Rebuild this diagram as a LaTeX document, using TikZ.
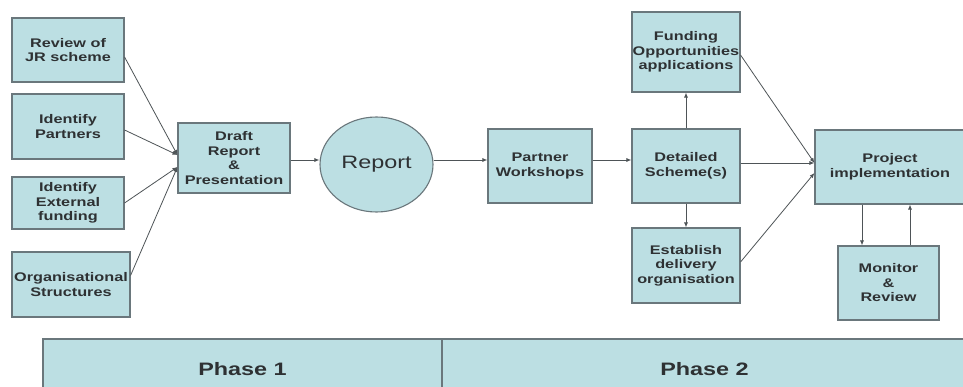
\documentclass[tikz,border=0pt]{standalone}
\usepackage{fontspec}
\setmainfont[FakeStretch=1.3]{Liberation Sans}
\usetikzlibrary{shapes.geometric,arrows.meta}
\definecolor{boxfill}{HTML}{BCDFE3}
\definecolor{boxline}{HTML}{6A777C}
\definecolor{ink}{HTML}{2E3133}
\definecolor{wire}{HTML}{4E5457}
\begin{document}
\begin{tikzpicture}[x=1pt,y=-1pt,
  stepbox/.style={draw=boxline,line width=1.1pt,fill=boxfill,rectangle,inner sep=0pt,
    align=center,text=ink,font=\fontsize{12.5}{14.5}\selectfont\bfseries},
  phasebox/.style={draw=boxline,line width=1.1pt,fill=boxfill,rectangle,inner sep=0pt,
    text=ink,font=\fontsize{18}{20}\selectfont\bfseries},
  arr/.style={draw=wire,line width=0.8pt,-{Latex[length=5pt,width=4pt]}}]
\useasboundingbox (0,0) rectangle (963,387);
\clip (0,0) rectangle (963,387);
\fill[white] (0,0) rectangle (963,387);

% phase 1 inputs
\node[stepbox,minimum width=112,minimum height=64] (review) at (68,50) {Review of\\JR scheme};
\node[stepbox,minimum width=112,minimum height=65] (partners) at (68,126.5) {Identify\\Partners};
\node[stepbox,minimum width=112,minimum height=52] (external) at (68,203) {Identify\\External\\funding};
\node[stepbox,minimum width=118,minimum height=65] (org) at (71,284.5) {Organisational\\Structures};

% main chain
\node[stepbox,minimum width=112,minimum height=70] (draft) at (234,158) {Draft\\Report\\\&\\Presentation};
\node[ellipse,draw=boxline,line width=1.1pt,fill=boxfill,inner sep=0pt,minimum width=113,minimum height=95,
  text=ink,font=\fontsize{18}{20}\selectfont] (report) at (376.5,164.5) {Report};
\node[stepbox,minimum width=104,minimum height=74] (workshops) at (540,166) {Partner\\Workshops};
\node[stepbox,minimum width=108,minimum height=80] (funding) at (686,52) {Funding\\Opportunities\\applications};
\node[stepbox,minimum width=108,minimum height=74] (detailed) at (686,166) {Detailed\\Scheme(s)};
\node[stepbox,minimum width=108,minimum height=75] (establish) at (686,265.5) {Establish\\delivery\\organisation};
\node[stepbox,minimum width=150,minimum height=74] (project) at (890,167) {Project\\implementation};
\node[stepbox,minimum width=101,minimum height=74] (monitor) at (888.5,283) {Monitor\\\&\\Review};

% phase bar
\node[phasebox,minimum width=399,minimum height=60] (phase1) at (242.5,369) {Phase 1};
\node[phasebox,minimum width=525,minimum height=60] (phase2) at (704.5,369) {Phase 2};

% join points
\coordinate (row) at (0,160);
\coordinate (draftA) at ([yshift=3pt]draft.west);
\coordinate (draftB) at ([yshift=-9pt]draft.west);
\coordinate (projA) at ([yshift=4pt]project.west);
\coordinate (projB) at ([yshift=-6pt]project.west);
\coordinate (downx) at (862,0);
\coordinate (upx) at (910,0);

% inputs into the draft report
\draw[arr] ([yshift=-7pt]review.east) -- (draftA);
\draw[arr] ([yshift=-3.5pt]partners.east) -- (draftA);
\draw[arr] (external.east) -- (draftB);
\draw[arr] ([yshift=9pt]org.east) -- (draftB);

% chain along the middle row
\draw[arr] (draft.east |- row) -- (report.west |- row);
\draw[arr] (report.east |- row) -- (workshops.west |- row);
\draw[arr] (workshops.east |- row) -- (detailed.west |- row);

% branches from the detailed scheme
\draw[arr] (detailed.north) -- (funding.south);
\draw[arr] (detailed.south) -- (establish.north);
\draw[arr] (detailed.east |- projA) -- (projA);
\draw[arr] ([yshift=-3pt]funding.east) -- (projA);
\draw[arr] ([yshift=3.5pt]establish.east) -- (projB);

% monitoring loop
\draw[arr] (project.south -| downx) -- (monitor.north -| downx);
\draw[arr] (monitor.north -| upx) -- (project.south -| upx);
\end{tikzpicture}
\end{document}
